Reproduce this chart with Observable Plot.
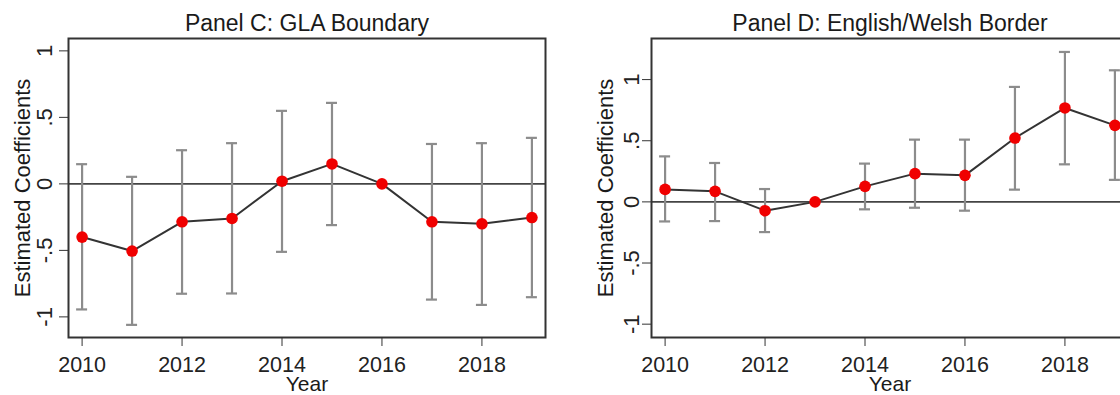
<!DOCTYPE html>
<html><head><meta charset="utf-8">
<script src="https://cdn.jsdelivr.net/npm/d3@7"></script>
<script src="https://cdn.jsdelivr.net/npm/@observablehq/plot@0.6"></script>
<style>
html,body{margin:0;padding:0;background:#fff;overflow:hidden;}
#wrap{width:1120px;height:395px;overflow:hidden;display:flex;flex-wrap:nowrap;}
#wrap > *{flex:none;}
</style></head><body><div id="wrap"></div>
<script>
const years = [2010, 2011, 2012, 2013, 2014, 2015, 2016, 2017, 2018, 2019];
// Panel C: GLA Boundary (2016 = reference year, no interval)
const glaCoef  = [-0.40, -0.505, -0.285, -0.26, 0.02, 0.15, 0, -0.285, -0.30, -0.253];
const glaLower = [-0.944, -1.06, -0.826, -0.824, -0.511, -0.31, null, -0.87, -0.91, -0.852];
const glaUpper = [0.148, 0.053, 0.253, 0.306, 0.549, 0.609, null, 0.30, 0.306, 0.346];
// Panel D: English/Welsh Border (2013 = reference year, no interval)
const ewCoef  = [0.102, 0.086, -0.072, 0, 0.127, 0.231, 0.217, 0.522, 0.768, 0.626];
const ewLower = [-0.16, -0.157, -0.247, null, -0.061, -0.048, -0.072, 0.10, 0.307, 0.18];
const ewUpper = [0.372, 0.318, 0.105, null, 0.313, 0.509, 0.509, 0.94, 1.226, 1.076];
const xTicks = [2010, 2012, 2014, 2016, 2018];
const yTicks = [-1, -0.5, 0, 0.5, 1];
const yTickLabels = ["-1", "-.5", "0", ".5", "1"];
const titles = ["Panel C: GLA Boundary", "Panel D: English/Welsh Border"];
const xLabel = "Year";
const yLabel = "Estimated Coefficients";

function panel({title, coef, lo, hi, yDomain, marginLeft, width, tickPad}) {
  const data = years.map((year, i) => ({year, coef: coef[i], lo: lo[i], hi: hi[i]}));
  const ci = data.filter(d => d.lo != null && d.hi != null);
  const barColor = "#8c8c8c";
  return Plot.plot({
    width, height: 395,
    marginLeft, marginRight: 15, marginTop: 38, marginBottom: 58,
    x: {domain: [2009.728, 2019.272]},
    y: {domain: yDomain},
    style: {fontFamily: "'Liberation Sans', Arial, sans-serif", fontSize: "21.5px", color: "#222", background: "#fff", overflow: "visible"},
    marks: [
      Plot.ruleY([0], {stroke: "#444", strokeWidth: 1.6}),
      Plot.ruleX(ci, {x: "year", y1: "lo", y2: "hi", stroke: barColor, strokeWidth: 2.2}),
      Plot.ruleY(ci, {y: "hi", x1: "year", x2: "year", insetLeft: -5.5, insetRight: -5.5, stroke: barColor, strokeWidth: 2.2}),
      Plot.ruleY(ci, {y: "lo", x1: "year", x2: "year", insetLeft: -5.5, insetRight: -5.5, stroke: barColor, strokeWidth: 2.2}),
      Plot.line(data, {x: "year", y: "coef", stroke: "#333", strokeWidth: 2}),
      Plot.dot(data, {x: "year", y: "coef", r: 5.8, fill: "#f00000"}),
      Plot.frame({stroke: "#333", strokeWidth: 2}),
      Plot.axisX({ticks: xTicks, tickSize: 9, tickPadding: 10.5, fontSize: 21.5, label: null, tickFormat: d => String(d), stroke: "#333"}),
      Plot.axisY({ticks: yTicks, tickSize: 9, tickRotate: -90, tickPadding: tickPad, fontSize: 22, label: null,
                  tickFormat: d => yTickLabels[yTicks.indexOf(d)], stroke: "#333"}),
      Plot.text([title], {text: d => d, frameAnchor: "top", dy: -8, lineAnchor: "bottom", fontSize: 23, fill: "#1a1a1a"}),
      Plot.text([xLabel], {text: d => d, frameAnchor: "bottom", dy: 53.5, lineAnchor: "bottom", fontSize: 21, fill: "#1a1a1a"}),
      Plot.text([yLabel], {text: d => d, frameAnchor: "left", dx: -38.5, rotate: -90, textAnchor: "middle", lineAnchor: "bottom", fontSize: 22, fill: "#1a1a1a"})
    ]
  });
}

const wrap = document.getElementById("wrap");
wrap.append(panel({title: titles[0], coef: glaCoef, lo: glaLower, hi: glaUpper, yDomain: [-1.155, 1.093], marginLeft: 68, width: 560, tickPad: 7.6}));
wrap.append(panel({title: titles[1], coef: ewCoef, lo: ewLower, hi: ewUpper, yDomain: [-1.109, 1.336], marginLeft: 91, width: 583, tickPad: 3.4}));
</script></body></html>
